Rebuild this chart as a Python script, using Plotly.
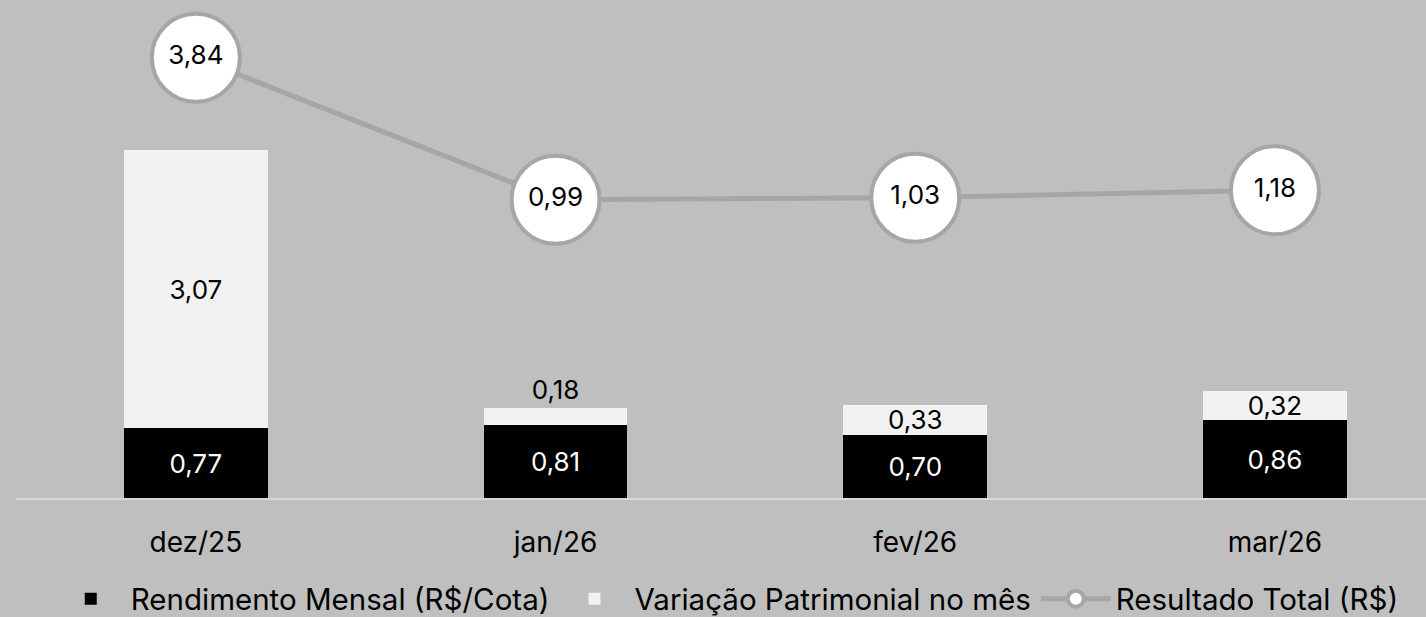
import plotly.graph_objects as go

categories = ["dez/25", "jan/26", "fev/26", "mar/26"]
rendimento = [0.77, 0.81, 0.70, 0.86]
variacao = [3.07, 0.18, 0.33, 0.32]
resultado = [3.84, 0.99, 1.03, 1.18]

def fmt(v):
    return f"{v:.2f}".replace(".", ",")

FONT = "Inter"
BG = "#bfbfbf"
LBL = 26
AX = 28
LEG = 29.5

fig = go.Figure()
fig.add_trace(go.Bar(
    x=categories, y=rendimento, name="Rendimento Mensal (R$/Cota)",
    marker=dict(color="#000000", line=dict(width=0)),
    text=[fmt(v) for v in rendimento], textposition="inside",
    insidetextanchor="middle",
    textfont=dict(color="#ffffff", size=LBL, family=FONT),
))
fig.add_trace(go.Bar(
    x=categories, y=variacao, name="Variação Patrimonial no mês",
    marker=dict(color="#f2f2f2", line=dict(width=0)),
    text=[fmt(v) for v in variacao],
    textposition=["inside", "outside", "inside", "inside"],
    insidetextanchor="middle",
    textfont=dict(color="#000000", size=LBL, family=FONT),
    outsidetextfont=dict(color="#000000", size=LBL, family=FONT),
))
fig.add_trace(go.Scatter(
    x=categories, y=resultado, name="Resultado Total (R$)", yaxis="y2",
    mode="lines+markers+text",
    line=dict(color="#a6a6a6", width=5),
    marker=dict(size=88, color="#ffffff", line=dict(color="#a6a6a6", width=4)),
    text=[fmt(v) for v in resultado], textposition="middle center",
    textfont=dict(color="#000000", size=LBL, family=FONT),
))

fig.update_layout(
    width=1426, height=617,
    paper_bgcolor=BG, plot_bgcolor=BG,
    barmode="stack", bargap=0.6,
    margin=dict(l=16, r=0, t=0, b=119, autoexpand=False),
    font=dict(family=FONT, size=AX, color="#000000"),
    showlegend=True,
    legend=dict(orientation="h", x=0.51, xanchor="center", xref="container",
                y=-0.255, yanchor="bottom", yref="paper",
                font=dict(size=LEG, family=FONT), bgcolor="rgba(0,0,0,0)",
                traceorder="normal", itemwidth=70, tracegroupgap=0),
    xaxis=dict(range=[-0.5, 3.42], showgrid=False, showline=True,
               linecolor="#d9d9d9", linewidth=2, ticks="",
               tickfont=dict(size=AX, family=FONT), ticklabelstandoff=18, fixedrange=True),
    yaxis=dict(range=[0, 5.5], visible=False, showgrid=False, zeroline=False),
    yaxis2=dict(range=[-5, 5], visible=False, overlaying="y", side="right",
                showgrid=False, zeroline=False),
)
fig.update_traces(cliponaxis=False, constraintext="none", selector=dict(type="bar"))
fig.update_traces(cliponaxis=False, selector=dict(type="scatter"))

fig.write_html("out.html", config={"displayModeBar": False},
               post_script="document.body.style.margin='0';document.body.style.overflow='hidden';")
